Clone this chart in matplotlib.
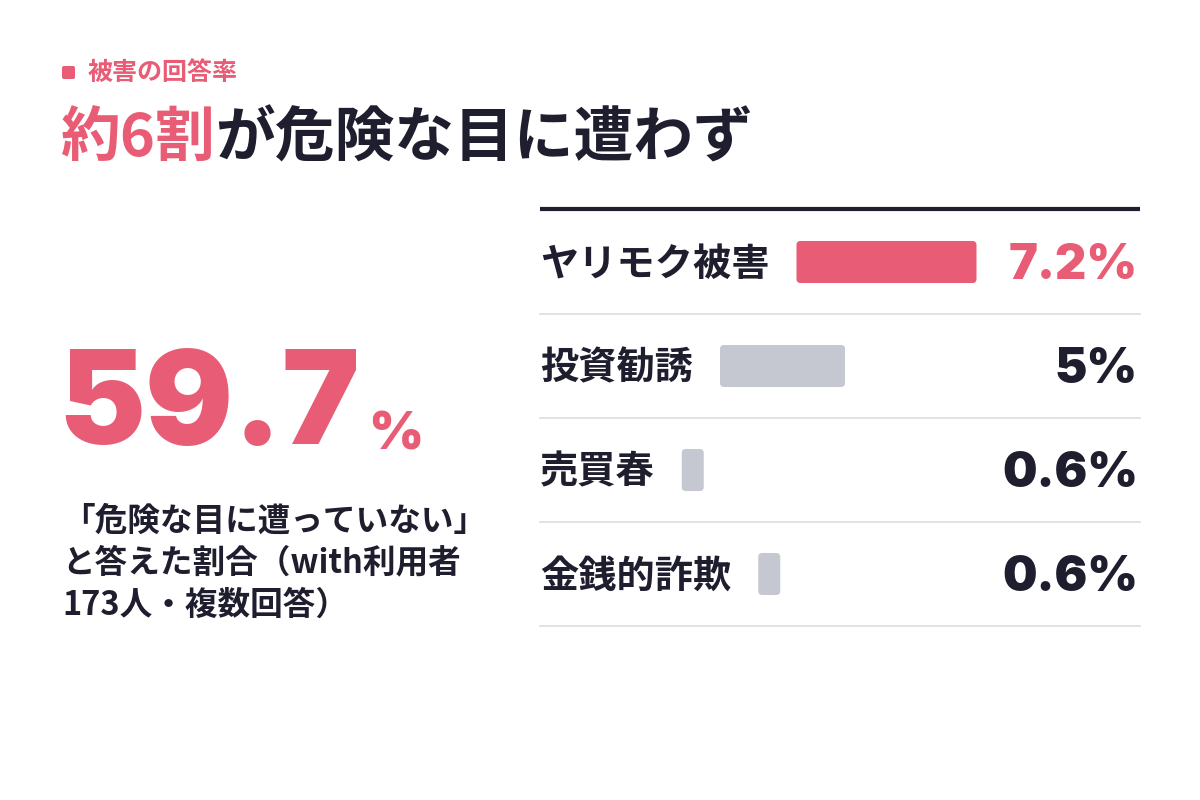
import matplotlib
matplotlib.use("Agg")
import matplotlib.pyplot as plt
from matplotlib.patches import FancyBboxPatch

plt.rcParams['font.family'] = ['Noto Sans CJK JP', 'DejaVu Sans']

PINK = "#E85D75"
DARK = "#1E1E2E"
GRAY = "#C5C8D0"
LINE = "#DDDDE2"

categories = ["ヤリモク被害", "投資勧誘", "売買春", "金銭的詐欺"]
values = [7.2, 5.0, 0.6, 0.6]
value_labels = ["7.2%", "5%", "0.6%", "0.6%"]
highlight = [True, False, False, False]
headline_value = "59.7"

fig = plt.figure(figsize=(12, 8), dpi=100)
ax = fig.add_axes([0, 0, 1, 1])
ax.set_xlim(0, 1200)
ax.set_ylim(800, 0)
ax.axis("off")

# header
ax.add_patch(FancyBboxPatch((62, 66), 13, 13, boxstyle="round,pad=0,rounding_size=2",
                            color=PINK, lw=0))
ax.text(88, 73, "被害の回答率", color=PINK, fontsize=18, fontweight="bold", va="center")
t1 = ax.text(60, 140, "約6割", color=PINK, fontsize=43, fontweight="bold", va="center")
ax.annotate("が危険な目に遭わず", xy=(1, 0.5), xycoords=t1, va="center", ha="left",
            color=DARK, fontsize=43, fontweight="bold")

# big figure
big = ax.text(58, 410, headline_value, color=PINK, fontsize=94, fontweight="black",
              family=["Inter", "DejaVu Sans"], va="center")
ax.annotate("%", xy=(1, 0.18), xycoords=big, xytext=(6, 0), textcoords="offset points",
            va="baseline", ha="left", color=PINK, fontsize=38, fontweight="black",
            family=["Inter", "DejaVu Sans"])
ax.text(62, 521, "「危険な目に遭っていない」", color=DARK, fontsize=23.5, fontweight="bold", va="center")
ax.text(62, 563, "と答えた割合（with利用者", color=DARK, fontsize=23.5, fontweight="bold", va="center")
ax.text(62, 605, "173人・複数回答）", color=DARK, fontsize=23.5, fontweight="bold", va="center")

# ranking
ax.plot([540, 1140], [209, 209], color=DARK, lw=3, solid_capstyle="butt")
row_h = 104
vmax = max(values)
for i, (cat, v, lab, hl) in enumerate(zip(categories, values, value_labels, highlight)):
    yc = 262 + i * row_h
    col = PINK if hl else DARK
    t = ax.text(540, yc + 2, cat, color=DARK, fontsize=27.5, fontweight="bold", va="center")
    fig.canvas.draw()
    ext = t.get_window_extent(fig.canvas.get_renderer())
    left = ext.x1 + 27
    width = max(v / vmax * 180, 22)
    ax.add_patch(FancyBboxPatch((left, yc - 21), width, 42,
                                boxstyle="round,pad=0,rounding_size=4",
                                color=PINK if hl else GRAY, lw=0))
    ax.text(1138, yc + 4, lab, color=col, fontsize=35, fontweight="black",
            family=["Inter", "DejaVu Sans"], va="center", ha="right")
    ax.plot([540, 1140], [yc + 52, yc + 52], color=LINE, lw=1.2)

fig.savefig("out.png", dpi=100, facecolor="white")
